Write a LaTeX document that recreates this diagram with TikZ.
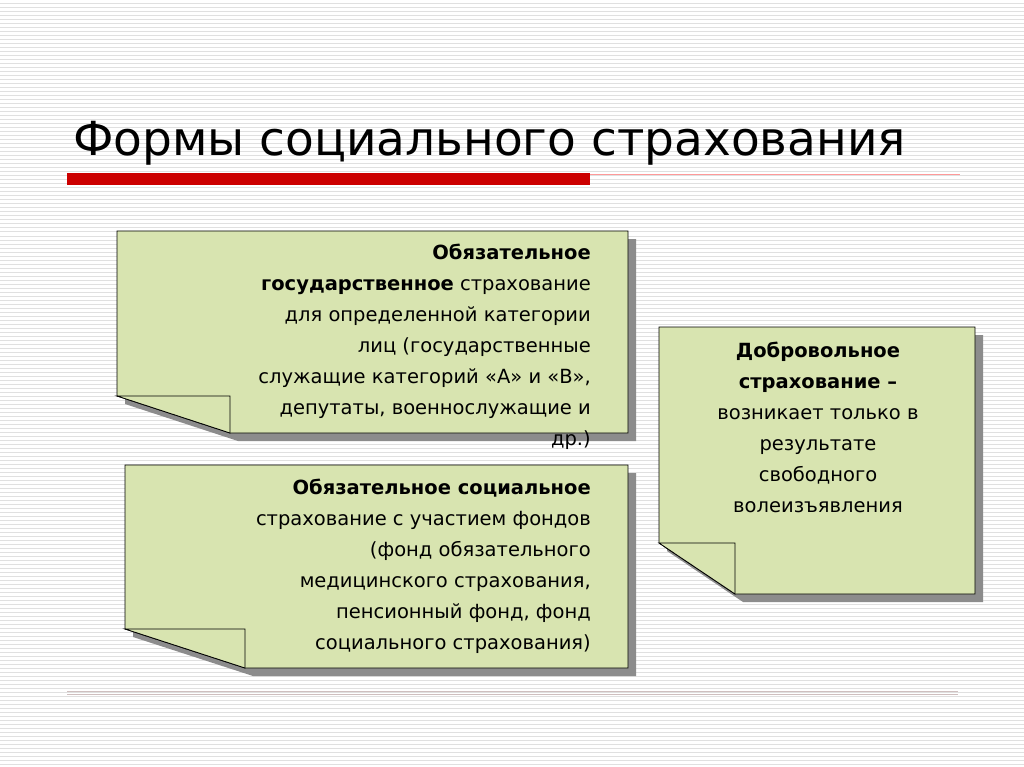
\documentclass[tikz,border=0pt]{standalone}
\usepackage{fontspec}
\setmainfont{DejaVu Sans}
\begin{document}
\begin{tikzpicture}[x=1pt,y=-1pt,
  note/.style={fill=notegreen,draw=black,line width=0.8pt},
  shadow/.style={fill=black!45},
  txt/.style={font=\fontsize{19.5}{31}\selectfont,inner sep=0pt}]
\definecolor{notegreen}{HTML}{D8E4B0}
\useasboundingbox (0,0) rectangle (1024,767);
\fill[white] (0,0) rectangle (1024,767);
\foreach \y in {0,4,...,767} \draw[black!12,line width=1pt] (0,\y) -- (1024,\y);
\node[anchor=base west,inner sep=0pt,font=\fontsize{47}{54}\selectfont] (title) at (73,156) {Формы социального страхования};
\fill[red!80!black] (67,173) rectangle (590,185);
\draw[red!40,line width=0.8pt] (590,174) -- (960,174);
\draw[red!25!black!25,line width=1pt] (67,691) -- (958,691);
\draw[red!25!black!25,line width=1pt] (67,694) -- (958,694);
% box 1
\fill[shadow] (125,239) -- (636,239) -- (636,441) -- (238,441) -- (125,404) -- cycle;
\draw[note] (117,231) -- (628,231) -- (628,433) -- (230,433) -- (117,396) -- cycle;
\draw[note] (117,396) -- (230,396) -- (230,433) -- cycle;
\node[txt,align=right,anchor=north east] (t1) at (591,244) {\textbf{Обязательное}\\\textbf{государственное} страхование\\для определенной категории\\лиц (государственные\\служащие категорий «А» и «В»,\\депутаты, военнослужащие и\\др.)};
% box 2
\fill[shadow] (133,473) -- (636,473) -- (636,676) -- (253,676) -- (133,637) -- cycle;
\draw[note] (125,465) -- (628,465) -- (628,668) -- (245,668) -- (125,629) -- cycle;
\draw[note] (125,629) -- (245,629) -- (245,668) -- cycle;
\node[txt,align=right,anchor=north east] (t2) at (591,479) {\textbf{Обязательное социальное}\\страхование с участием фондов\\(фонд обязательного\\медицинского страхования,\\пенсионный фонд, фонд\\социального страхования)};
% box 3
\fill[shadow] (667,335) -- (983,335) -- (983,602) -- (743,602) -- (667,551) -- cycle;
\draw[note] (659,327) -- (975,327) -- (975,594) -- (735,594) -- (659,543) -- cycle;
\draw[note] (659,543) -- (735,543) -- (735,594) -- cycle;
\node[txt,align=center,anchor=north] (t3) at (818,342) {\textbf{Добровольное}\\\textbf{страхование –}\\возникает только в\\результате\\свободного\\волеизъявления};
\end{tikzpicture}
\end{document}
